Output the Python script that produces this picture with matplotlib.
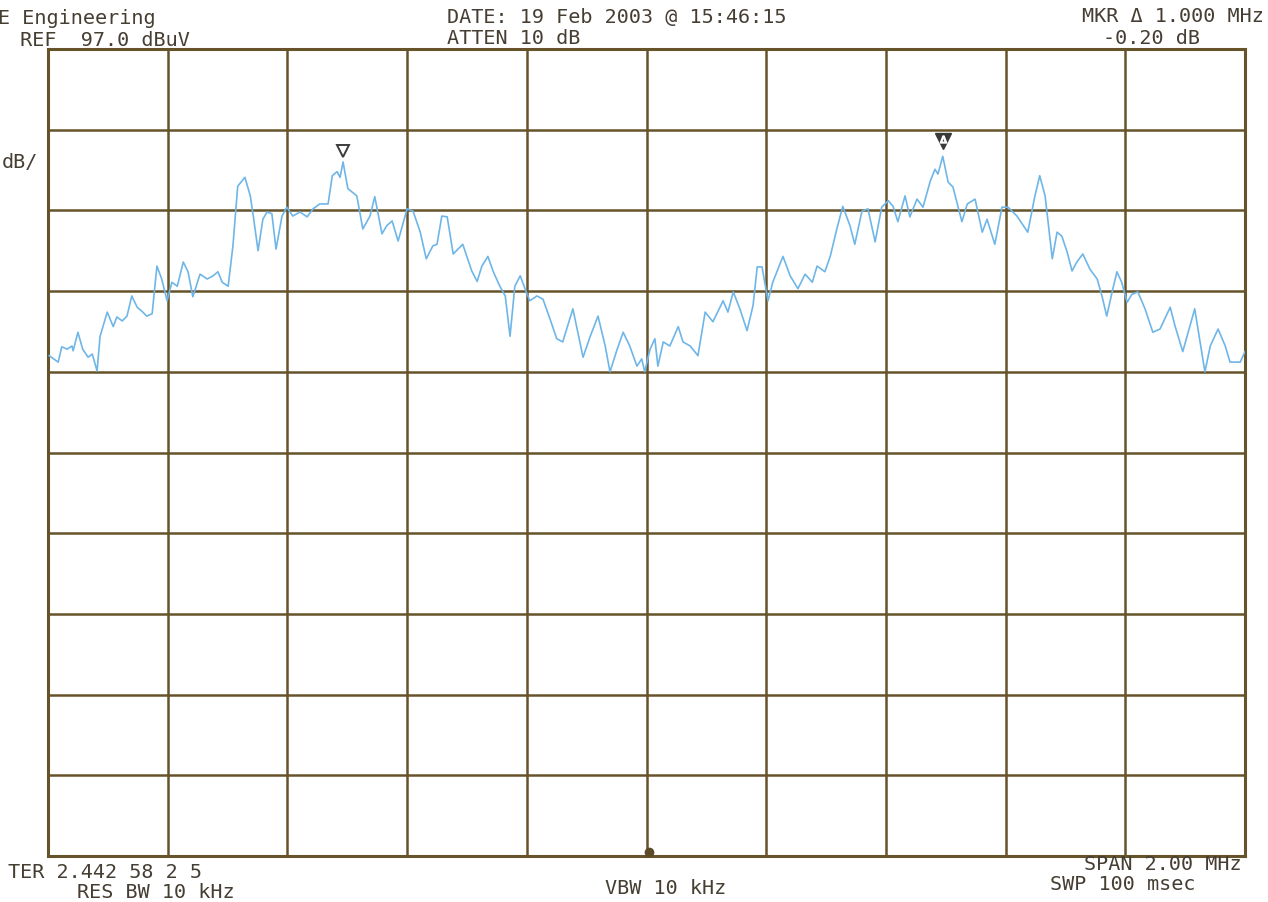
import numpy as np
import matplotlib
matplotlib.use('Agg')
import matplotlib.pyplot as plt

# frequency offset from centre (MHz) and trace level (dBuV)
freq = [-0.998, -0.983, -0.977, -0.968, -0.960, -0.958, -0.950, -0.942, -0.933, -0.926,
        -0.918, -0.913, -0.901, -0.891, -0.885, -0.876, -0.868, -0.860, -0.851, -0.843,
        -0.835, -0.826, -0.818, -0.810, -0.801, -0.793, -0.784, -0.774, -0.766, -0.758,
        -0.746, -0.734, -0.724, -0.716, -0.709, -0.699, -0.691, -0.683, -0.671, -0.662,
        -0.657, -0.649, -0.641, -0.634, -0.626, -0.619, -0.609, -0.601, -0.591, -0.579,
        -0.567, -0.557, -0.546, -0.532, -0.525, -0.517, -0.512, -0.507, -0.499, -0.484,
        -0.474, -0.462, -0.454, -0.442, -0.434, -0.425, -0.415, -0.400, -0.390, -0.378,
        -0.368, -0.357, -0.350, -0.342, -0.333, -0.323, -0.307, -0.292, -0.283, -0.275,
        -0.265, -0.256, -0.245, -0.236, -0.228, -0.220, -0.211, -0.203, -0.195, -0.183,
        -0.173, -0.161, -0.150, -0.140, -0.123, -0.106, -0.094, -0.081, -0.069, -0.061,
        -0.049, -0.039, -0.028, -0.016, -0.008, -0.003, 0.006, 0.014, 0.019, 0.028,
        0.039, 0.053, 0.061, 0.073, 0.086, 0.098, 0.111, 0.128, 0.136, 0.145,
        0.156, 0.168, 0.178, 0.185, 0.193, 0.203, 0.211, 0.228, 0.240, 0.253,
        0.265, 0.277, 0.285, 0.298, 0.307, 0.318, 0.328, 0.340, 0.348, 0.360,
        0.370, 0.382, 0.393, 0.404, 0.412, 0.420, 0.432, 0.440, 0.452, 0.462,
        0.474, 0.482, 0.487, 0.495, 0.504, 0.512, 0.527, 0.536, 0.549, 0.561,
        0.569, 0.582, 0.594, 0.604, 0.619, 0.637, 0.649, 0.657, 0.666, 0.678,
        0.686, 0.694, 0.703, 0.711, 0.719, 0.729, 0.741, 0.753, 0.761, 0.769,
        0.778, 0.786, 0.794, 0.803, 0.811, 0.821, 0.833, 0.846, 0.858, 0.875,
        0.883, 0.896, 0.916, 0.933, 0.942, 0.955, 0.967, 0.975, 0.992, 1.000]
level = [59.0, 58.2, 60.1, 59.8, 60.2, 59.6, 61.9, 59.8, 58.8, 59.2,
         57.1, 61.4, 64.4, 62.6, 63.8, 63.3, 63.9, 66.4, 65.0, 64.5,
         63.9, 64.2, 70.1, 68.5, 65.8, 68.1, 67.6, 70.6, 69.4, 66.3,
         69.1, 68.5, 68.9, 69.4, 68.1, 67.6, 72.6, 80.0, 81.1, 78.8,
         76.3, 72.0, 75.9, 76.8, 76.6, 72.2, 76.3, 77.4, 76.3, 76.8,
         76.2, 77.2, 77.8, 77.8, 81.3, 81.8, 81.1, 83.0, 79.7, 78.8,
         74.7, 76.3, 78.7, 74.1, 75.1, 75.7, 73.2, 77.2, 76.9, 74.3,
         71.0, 72.6, 72.8, 76.3, 76.2, 71.6, 72.8, 69.5, 68.2, 70.1,
         71.3, 69.4, 67.6, 66.4, 61.4, 67.6, 68.9, 67.3, 65.8, 66.4,
         66.0, 63.5, 61.1, 60.7, 64.8, 58.8, 61.4, 63.9, 60.2, 57.0,
         59.8, 61.9, 60.2, 57.7, 58.6, 57.0, 59.8, 61.1, 57.7, 60.7,
         60.2, 62.6, 60.7, 60.2, 59.0, 64.4, 63.2, 65.8, 64.4, 66.9,
         64.8, 62.1, 65.2, 70.0, 70.0, 65.8, 68.1, 71.3, 68.9, 67.3,
         69.1, 68.1, 70.1, 69.4, 71.3, 74.7, 77.5, 75.1, 72.8, 76.9,
         77.2, 73.1, 77.4, 78.2, 77.5, 75.6, 78.8, 76.2, 78.4, 77.4,
         80.6, 82.1, 81.5, 83.7, 80.5, 79.9, 75.6, 77.8, 78.4, 74.3,
         75.9, 72.8, 77.4, 77.4, 76.3, 74.3, 78.8, 81.3, 78.8, 71.0,
         74.3, 73.8, 71.8, 69.5, 70.6, 71.6, 69.7, 68.5, 66.4, 63.9,
         66.9, 69.4, 68.1, 65.6, 66.6, 66.9, 64.8, 61.9, 62.3, 65.0,
         62.7, 59.5, 64.8, 57.0, 60.2, 62.3, 60.2, 58.2, 58.2, 59.5]

ref_level = 97.0
db_per_div = 10.0
n_div = 10
marker_freq = [-0.507, 0.495]
marker_level = [83.0, 83.7]

W, H = 1268, 903
fig = plt.figure(figsize=(W / 100, H / 100), dpi=100)
fig.patch.set_facecolor('white')

# plot box in pixel terms
x0, x1, y0, y1 = 48, 1245, 50, 857
ax = fig.add_axes([x0 / W, 1 - y1 / H, (x1 - x0) / W, (y1 - y0) / H])

grid_c = '#66532a'
txt_c = '#463e33'

ax.set_xlim(-1, 1)
ax.set_ylim(ref_level - n_div * db_per_div, ref_level)
ax.set_xticks(np.linspace(-1, 1, n_div + 1))
ax.set_yticks(np.linspace(ref_level - n_div * db_per_div, ref_level, n_div + 1))
ax.tick_params(length=0, labelbottom=False, labelleft=False)
ax.grid(True, color=grid_c, linewidth=1.8)
for s in ax.spines.values():
    s.set_color(grid_c)
    s.set_linewidth(2.2)

ax.plot(freq, level, color='#6fb6e8', linewidth=1.2, zorder=3)

# markers over the two peaks
ax.plot(marker_freq[0], marker_level[0] + 1.4, marker='v', markersize=9,
        markerfacecolor='white', markeredgecolor='#3c3c3c', markeredgewidth=1.4, zorder=4)
ax.plot(marker_freq[1], marker_level[1] + 1.9, marker='v', markersize=11,
        markerfacecolor='#3a3a3a', markeredgecolor='#3a3a3a', zorder=4)
ax.plot(marker_freq[1], marker_level[1] + 2.1, marker='$\\Delta$', markersize=5,
        color='white', zorder=5)
# centre-frequency mark on the bottom edge
ax.plot(0.005, ref_level - n_div * db_per_div + 0.5, marker='o', markersize=6,
        color='#5a4a28', clip_on=False, zorder=5)

mono = 'DejaVu Sans Mono'


def label(px, py, s, ha='left', size=14.5):
    fig.text(px / W, 1 - py / H, s, ha=ha, va='center', family=mono,
             fontsize=size, color=txt_c)


label(-2, 19, 'E Engineering')
label(8, 40, ' REF  97.0 dBuV')
label(447, 17, 'DATE: 19 Feb 2003 @ 15:46:15')
label(447, 38, 'ATTEN 10 dB')
label(1264, 17, 'MKR Δ 1.000 MHz', ha='right')
label(1200, 38, '-0.20 dB', ha='right')
label(2, 162, 'dB/')
label(8, 873, 'TER 2.442 58 2 5')
label(77, 893, 'RES BW 10 kHz')
label(605, 889, 'VBW 10 kHz')
label(1242, 865, 'SPAN 2.00 MHz', ha='right')
label(1050, 885, 'SWP 100 msec')

fig.savefig('out.png', dpi=100)
